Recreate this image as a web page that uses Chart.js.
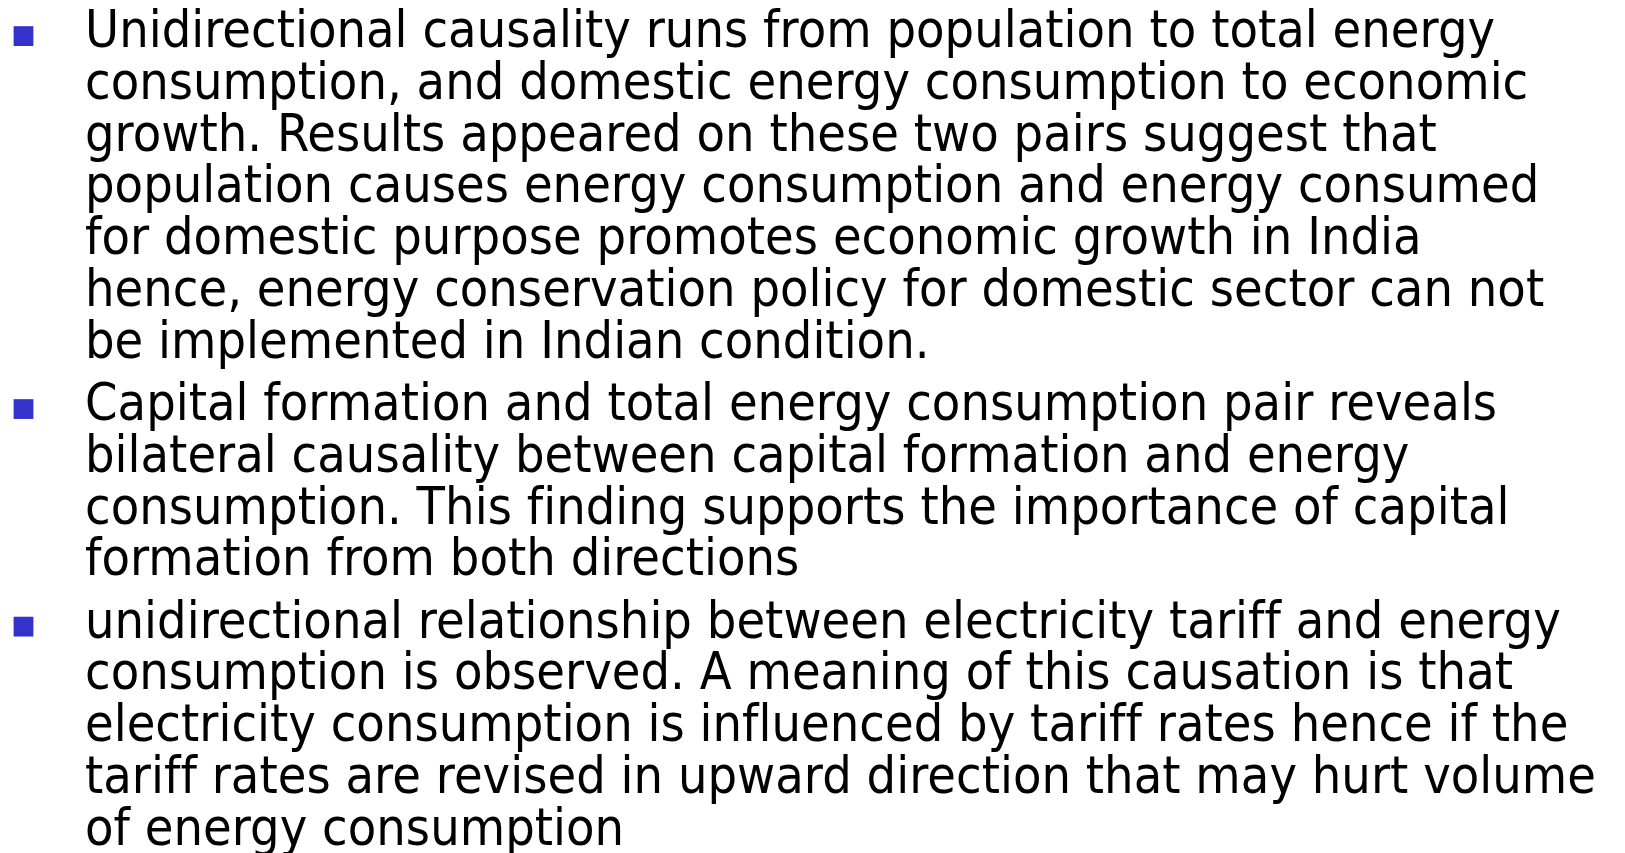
<!DOCTYPE html>
<html lang="en">
<head>
    <meta charset="UTF-8">
    <title>Causality findings</title>
    <script src="https://cdn.jsdelivr.net/npm/chart.js"></script>
    <style>
        html, body {
            margin: 0;
            padding: 0;
            background: #ffffff;
            overflow: hidden;
        }
        canvas {
            display: block;
        }
    </style>
</head>
<body>
    <canvas id="slide" width="1625" height="853"></canvas>

    <script>
        // Bullet texts, one entry per printed line
        const bullet1 = [
            "Unidirectional causality runs from population to total energy",
            "consumption, and domestic energy consumption to economic",
            "growth. Results appeared on these two pairs suggest that",
            "population causes energy consumption and energy consumed",
            "for domestic purpose promotes economic growth in India",
            "hence, energy conservation policy for domestic sector can not",
            "be implemented in Indian condition."
        ];
        const bullet2 = [
            "Capital formation and total energy consumption pair reveals",
            "bilateral causality between capital formation and energy",
            "consumption. This finding supports the importance of capital",
            "formation from both directions"
        ];
        const bullet3 = [
            "unidirectional relationship between electricity tariff and energy",
            "consumption is observed. A meaning of this causation is that",
            "electricity consumption is influenced by tariff rates hence if the",
            "tariff rates are revised in upward direction that may hurt volume",
            "of energy consumption"
        ];
        const bullets = [bullet1, bullet2, bullet3];

        // layout (in line units / indent units)
        const PARA_GAP = 0.2;
        const BULLET_RAISE = 0.21;
        const FONT = '51px "DejaVu Sans"';

        // work out the line index of every line
        const textLines = [];
        const bulletPoints = [];
        let pos = 0;
        bullets.forEach(function(lines, p) {
            if (p > 0) pos += PARA_GAP;
            bulletPoints.push({ x: 0, y: pos - BULLET_RAISE });
            lines.forEach(function(t) {
                textLines.push({ text: t, y: pos });
                pos += 1;
            });
        });

        // draws the text lines next to the bullets
        const textPlugin = {
            id: 'slideText',
            afterDatasetsDraw(chart) {
                const ctx = chart.ctx;
                const xs = chart.scales.x;
                const ys = chart.scales.y;
                ctx.save();
                ctx.font = FONT;
                ctx.textRendering = 'optimizeSpeed'; // no fi / ff ligatures
                ctx.fillStyle = '#000000';
                ctx.textBaseline = 'alphabetic';
                ctx.textAlign = 'left';
                // squeeze DejaVu to Tahoma-like width
                const longest = bullet3[3];
                const squeeze = 1511 / ctx.measureText(longest).width;
                const x0 = xs.getPixelForValue(1);
                textLines.forEach(function(l) {
                    const y = ys.getPixelForValue(l.y);
                    ctx.save();
                    ctx.translate(x0, y);
                    ctx.scale(squeeze, 1);
                    ctx.fillText(l.text, 0, 0);
                    ctx.restore();
                });
                ctx.restore();
            }
        };

        new Chart(document.getElementById('slide'), {
            type: 'scatter',
            data: {
                datasets: [{
                    data: bulletPoints,
                    pointStyle: 'rect',
                    pointRadius: 14,
                    pointHoverRadius: 14,
                    backgroundColor: '#3333cc',
                    borderColor: '#3333cc',
                    borderWidth: 0
                }]
            },
            options: {
                responsive: false,
                animation: false,
                events: [],
                layout: { padding: 0, autoPadding: false },
                plugins: {
                    legend: { display: false },
                    tooltip: { enabled: false }
                },
                scales: {
                    x: { type: 'linear', display: false, min: -0.382, max: 26.04 },
                    y: { type: 'linear', display: false, reverse: true, min: -0.907, max: 15.56 }
                }
            },
            plugins: [textPlugin]
        });
    </script>
</body>
</html>
